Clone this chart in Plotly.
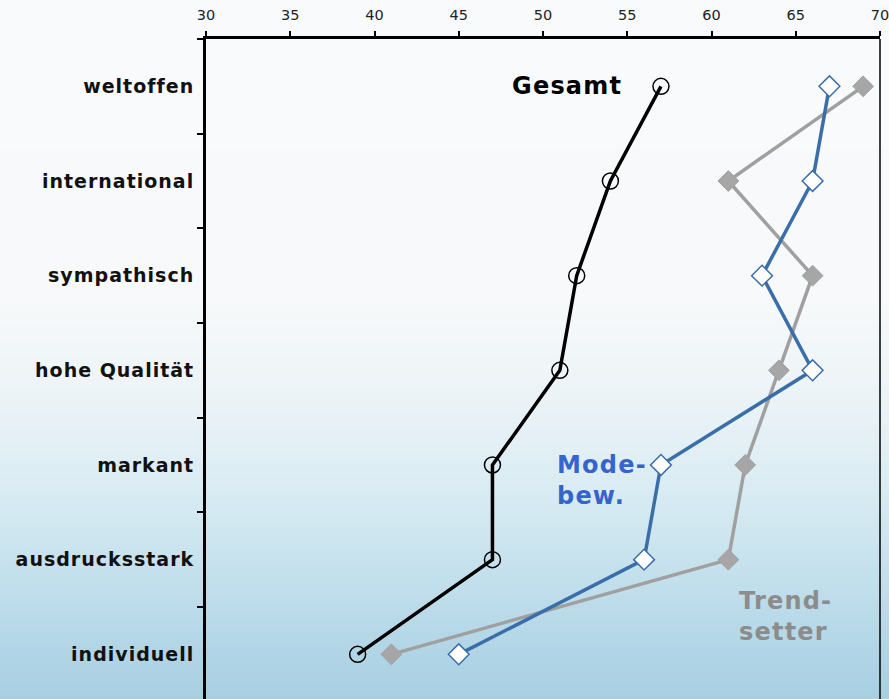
import plotly.graph_objects as go

categories = ["weltoffen", "international", "sympathisch", "hohe Qualität",
              "markant", "ausdrucksstark", "individuell"]
gesamt = [57, 54, 52, 51, 47, 47, 39]
modebew = [67, 66, 63, 66, 57, 56, 45]
trendsetter = [69, 61, 66, 64, 62, 61, 41]
x_ticks = [30, 35, 40, 45, 50, 55, 60, 65, 70]

W, H = 889, 699
L, T, R, B = 206, 39, 9, 0
pw, ph = W - L - R, H - T - B

def px2paper_x(px):
    return (px - L) / pw

def px2paper_y(py):
    return (H - B - py) / ph

# background gradient stops (pixel y, rgb)
stops = [(0, (249, 250, 251)), (300, (247, 249, 250)), (380, (238, 244, 247)),
         (450, (226, 239, 245)), (520, (210, 232, 241)), (600, (189, 220, 234)),
         (699, (167, 207, 226))]

def col_at(y):
    for (y0, c0), (y1, c1) in zip(stops[:-1], stops[1:]):
        if y0 <= y <= y1:
            t = (y - y0) / (y1 - y0)
            return "rgb(%d,%d,%d)" % tuple(round(a + (b - a) * t) for a, b in zip(c0, c1))
    return "rgb(%d,%d,%d)" % stops[-1][1]

shapes = []
step = 4
for py in range(0, H, step):
    shapes.append(dict(type="rect", xref="paper", yref="paper", layer="below",
                       x0=px2paper_x(-2), x1=px2paper_x(W + 2),
                       y0=px2paper_y(py + step + 0.5), y1=px2paper_y(py),
                       fillcolor=col_at(py + step / 2), line=dict(width=0)))
# right border of plot area
shapes.append(dict(type="line", xref="paper", yref="paper", x0=1, x1=1, y0=0, y1=1,
                   line=dict(color="black", width=1.5)))

fig = go.Figure()
fig.add_trace(go.Scatter(
    x=trendsetter, y=categories, mode="lines+markers", name="Trendsetter",
    line=dict(color="#a0a0a0", width=3.5),
    marker=dict(symbol="diamond", size=16, color="#a6a6a6", line=dict(color="#a0a0a0", width=1))))
fig.add_trace(go.Scatter(
    x=modebew, y=categories, mode="lines+markers", name="Mode-bew.",
    line=dict(color="#3a6ea8", width=3.5),
    marker=dict(symbol="diamond", size=16, color="white", line=dict(color="#3a6ea8", width=1.5))))
fig.add_trace(go.Scatter(
    x=gesamt, y=categories, mode="lines+markers", name="Gesamt",
    line=dict(color="black", width=3.5),
    marker=dict(symbol="circle-open", size=16, color="black", line=dict(width=1.5))))

lab_font = "DejaVu Sans, Verdana, sans-serif"
annotations = [
    dict(x=48.05, y=0.0, xref="x", yref="y", text="<b>Gesamt</b>", showarrow=False,
         xanchor="left", yanchor="middle", align="left",
         font=dict(family=lab_font, size=24, color="black")),
    dict(x=50.7, y=4.16, xref="x", yref="y", text="<b>Mode-<br>bew.</b>", showarrow=False,
         xanchor="left", yanchor="middle", align="left",
         font=dict(family=lab_font, size=24, color="#3565cc")),
    dict(x=61.5, y=5.60, xref="x", yref="y", text="<b>Trend-<br>setter</b>", showarrow=False,
         xanchor="left", yanchor="middle", align="left",
         font=dict(family=lab_font, size=24, color="#8c8c8c")),
]

fig.update_layout(
    width=W, height=H,
    margin=dict(l=L, r=R, t=T, b=B, pad=0),
    paper_bgcolor="rgba(0,0,0,0)", plot_bgcolor="rgba(0,0,0,0)",
    showlegend=False,
    shapes=shapes,
    annotations=annotations,
    xaxis=dict(range=[30, 70], side="top", tickmode="array", tickvals=x_ticks,
               ticktext=[str(v) for v in x_ticks],
               ticks="outside", ticklen=5, tickwidth=1.5, tickcolor="black",
               showline=True, linewidth=2.5, linecolor="black",
               showgrid=False, zeroline=False, ticklabelstandoff=5,
               ticklabeloverflow="allow",
               tickfont=dict(family=lab_font, size=14.5, color="#222222")),
    yaxis=dict(type="category", categoryorder="array", categoryarray=categories,
               range=[6.472, -0.5], autorange=False,
               tickson="boundaries", ticks="outside", ticklen=6, tickwidth=1.5,
               tickcolor="black", showline=True, linewidth=3, linecolor="black",
               showgrid=False, zeroline=False, ticklabelstandoff=5,
               tickfont=dict(family=lab_font, size=19, color="#111111", weight="bold")),
)

post = """
document.body.style.margin='0';
document.body.style.padding='0';
var gd = document.getElementById('{plot_id}');
function ls(){
  gd.querySelectorAll('.ytick text').forEach(function(t){t.style.letterSpacing='1px';});
  gd.querySelectorAll('.annotation-text').forEach(function(t){t.style.letterSpacing='1.2px';});
}
ls();
gd.on('plotly_afterplot', ls);
"""

fig.write_html("out.html", post_script=post, config={"displayModeBar": False})
